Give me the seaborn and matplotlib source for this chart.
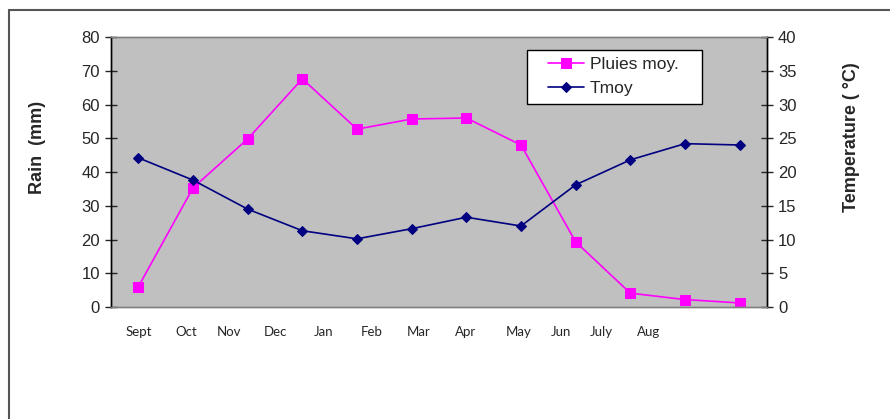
import matplotlib

matplotlib.use("Agg")

import matplotlib.pyplot as plt
import pandas as pd
import seaborn as sns
from matplotlib.lines import Line2D
from matplotlib.patches import Rectangle


MONTHS = ["Sept", "Oct", "Nov", "Dec", "Jan", "Feb", "Mar", "Apr", "May", "Jun", "July", "Aug"]
RAIN = [6.0, 35.3, 49.8, 67.6, 52.7, 55.7, 56.0, 48.0, 19.3, 4.1, 2.2, 1.2]
TMOY = [22.1, 18.8, 14.5, 11.3, 10.1, 11.6, 13.3, 12.0, 18.1, 21.8, 24.2, 24.0]

# the month labels in the source sit where they were typed, not under the points
LABEL_POS = [0.0, 0.88, 1.65, 2.51, 3.39, 4.27, 5.13, 5.99, 6.95, 7.74, 8.47, 9.34]


def px_x(x):
	# figure pixel -> axes fraction (axes spans 111..767 px)
	return (x - 111) / 656


def px_y(y):
	return (307 - y) / 270


def main() -> None:
	sns.set_style("white")
	plt.rcParams["font.family"] = ["Liberation Sans", "DejaVu Sans"]

	df = pd.DataFrame({"idx": range(len(MONTHS)), "month": MONTHS, "rain": RAIN, "tmoy": TMOY})

	fig = plt.figure(figsize=(8.9, 4.19), dpi=100)
	ax = fig.add_axes([111 / 890, 1 - 307 / 419, 656 / 890, 270 / 419])
	ax.set_facecolor("#C0C0C0")
	ax2 = ax.twinx()

	sns.lineplot(data=df, x="idx", y="rain", ax=ax, color="#FF00FF", marker="s",
		markersize=7, markeredgecolor="#FF00FF", linewidth=1.2, label="Pluies moy.", legend=False)
	sns.lineplot(data=df, x="idx", y="tmoy", ax=ax2, color="#000080", marker="D",
		markersize=5, markeredgecolor="#000080", linewidth=1.2, label="Tmoy", legend=False)

	ax.set_xlim(-0.5, len(MONTHS) - 0.5)
	ax.set_ylim(0, 80)
	ax2.set_ylim(0, 40)
	ax.set_yticks(range(0, 81, 10))
	ax2.set_yticks(range(0, 41, 5))

	ax.set_xticks(LABEL_POS)
	ax.set_xticklabels(MONTHS, fontsize=9.5, family=["Lato", "DejaVu Sans"])
	ax.tick_params(axis="x", length=0, pad=14)
	ax.tick_params(axis="y", direction="inout", length=8, width=1, labelsize=12, pad=4, left=True)
	ax2.tick_params(axis="y", direction="inout", length=8, width=1, labelsize=12, pad=4, right=True)

	ax.set_xlabel("")
	ax.set_ylabel("Rain  (mm)", fontsize=13, fontweight="bold")
	ax2.set_ylabel("Temperature ( °C)", fontsize=13, fontweight="bold")
	ax.yaxis.set_label_coords(px_x(46), px_y(147))
	ax2.yaxis.set_label_coords(px_x(843), px_y(137))

	for a in (ax, ax2):
		a.spines["left"].set_color("black")
		a.spines["right"].set_color("black")
		a.spines["top"].set_color("#808080")
		a.spines["bottom"].set_color("#808080")
		for s in a.spines.values():
			s.set_linewidth(1)

	# legend box drawn separately so its padding can be wider than matplotlib's
	ax2.add_patch(Rectangle((px_x(527), px_y(104)), 175 / 656, 54 / 270, transform=ax2.transAxes,
		facecolor="white", edgecolor="black", linewidth=1, zorder=4.5))
	h1, l1 = ax.get_legend_handles_labels()
	h2, l2 = ax2.get_legend_handles_labels()
	ax2.legend(h1 + h2, l1 + l2, loc="upper left", bbox_to_anchor=(px_x(538), px_y(47)),
		fontsize=12.5, frameon=False, borderpad=0.55, handlelength=2.1,
		handletextpad=0.35, labelspacing=0.55, borderaxespad=0)

	fig.add_artist(Line2D([9 / 890, 1], [1 - 10 / 419, 1 - 10 / 419], color="#555555", linewidth=1.5))
	fig.add_artist(Line2D([9 / 890, 9 / 890], [0, 1 - 10 / 419], color="#555555", linewidth=1.5))

	fig.savefig("out.png", dpi=100)
	plt.close(fig)


if __name__ == "__main__":
	main()
